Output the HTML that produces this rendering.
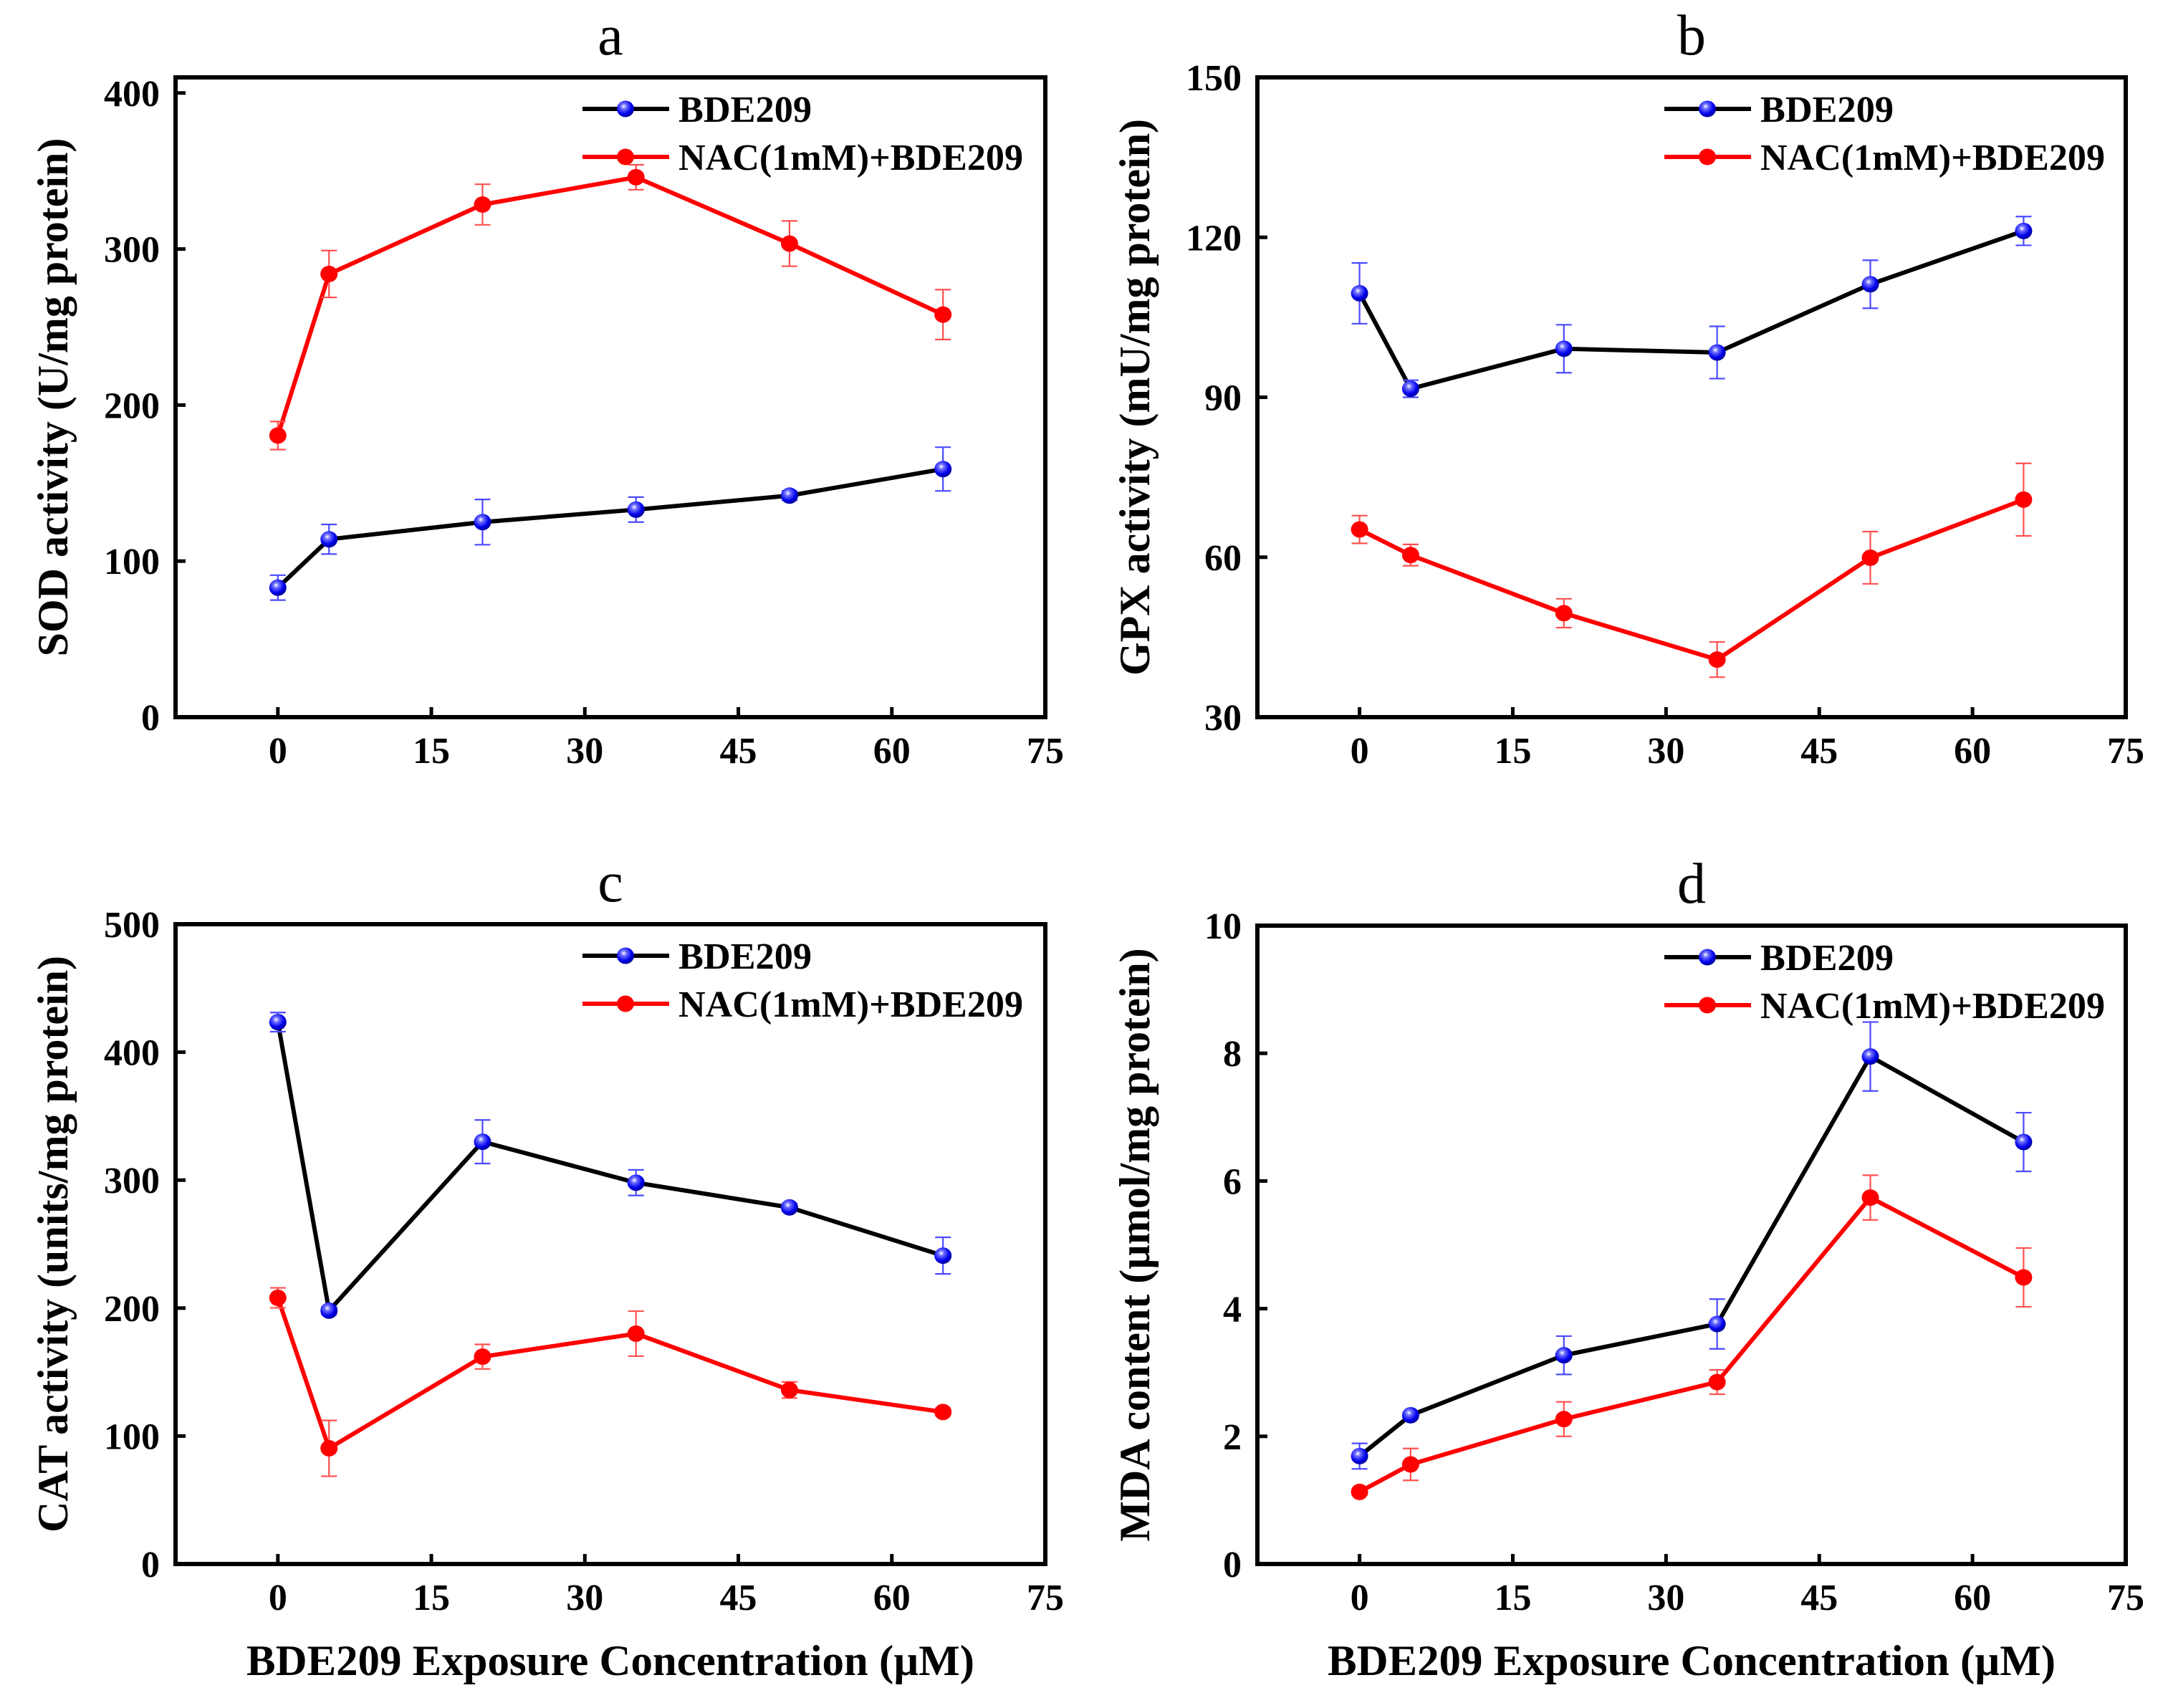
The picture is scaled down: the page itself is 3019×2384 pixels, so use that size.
<!DOCTYPE html>
<html><head><meta charset="utf-8"><style>
html,body{margin:0;padding:0;background:#fff;}
svg{display:block;}
text{font-family:"Liberation Serif","Times New Roman",serif;}
</style></head>
<body>
<svg id="fig" width="3019" height="2384" viewBox="0 0 3019 2384" xmlns="http://www.w3.org/2000/svg">
<defs>
<radialGradient id="blueBall" cx="0.4" cy="0.35" r="0.65">
<stop offset="0" stop-color="#ffffff"/><stop offset="0.25" stop-color="#6f6fff"/><stop offset="0.7" stop-color="#0000ee"/><stop offset="1" stop-color="#00009a"/>
</radialGradient>
</defs>
</svg>
<script>
const xCats = [0, 5, 20, 35, 50, 65];
const xTicks = [0, 15, 30, 45, 60, 75];
const panelLetters = ["a", "b", "c", "d"];
const yTitles = ["SOD activity (U/mg protein)", "GPX activity (mU/mg protein)", "CAT activity (units/mg protein)", "MDA content (\u00b5mol/mg protein)"];
const yTicksA = [0, 100, 200, 300, 400];
const yTicksB = [30, 60, 90, 120, 150];
const yTicksC = [0, 100, 200, 300, 400, 500];
const yTicksD = [0, 2, 4, 6, 8, 10];
const yMaxA = 410, yMinA = 0;
const yMaxB = 150, yMinB = 30;
const yMaxC = 500, yMinC = 0;
const yMaxD = 10, yMinD = 0;
const sodBDE = [83, 114, 125, 133, 142, 159];
const sodBDEErr = [8, 9.5, 14.5, 8, 3, 14];
const sodNAC = [180.5, 284, 328.5, 346, 303.5, 258];
const sodNACErr = [9, 15, 13, 8, 14.5, 16];
const gpxBDE = [109.5, 91.6, 99.1, 98.4, 111.2, 121.2];
const gpxBDEErr = [5.7, 1.6, 4.5, 4.9, 4.5, 2.7];
const gpxNAC = [65.2, 60.4, 49.5, 40.8, 59.9, 70.8];
const gpxNACErr = [2.6, 2.0, 2.7, 3.3, 4.9, 6.8];
const catBDE = [423.5, 198, 330, 298, 278.7, 241];
const catBDEErr = [7.5, 3, 17, 10, 3, 14.3];
const catNAC = [208, 90.4, 162, 180, 136, 118.8];
const catNACErr = [7.8, 21.8, 9.6, 17.6, 6.3, 3];
const mdaBDE = [1.69, 2.33, 3.27, 3.76, 7.95, 6.61];
const mdaBDEErr = [0.2, 0.05, 0.3, 0.39, 0.54, 0.46];
const mdaNAC = [1.13, 1.56, 2.27, 2.85, 5.74, 4.49];
const mdaNACErr = [0.05, 0.25, 0.27, 0.19, 0.35, 0.46];
const legendLabels = ["BDE209", "NAC(1mM)+BDE209"];

const NS = "http://www.w3.org/2000/svg";
const svg = document.getElementById("fig");
function mk(tag, attrs, parent) {
  const e = document.createElementNS(NS, tag);
  for (const k in attrs) e.setAttribute(k, attrs[k]);
  (parent || svg).appendChild(e);
  return e;
}
const panels = [
  {L:245, T:108, R:1459, B:1001, yt:yTicksA, ymin:yMinA, ymax:yMaxA, s1:sodBDE, e1:sodBDEErr, s2:sodNAC, e2:sodNACErr, xt:false},
  {L:1755, T:108, R:2967, B:1001, yt:yTicksB, ymin:yMinB, ymax:yMaxB, s1:gpxBDE, e1:gpxBDEErr, s2:gpxNAC, e2:gpxNACErr, xt:false},
  {L:245, T:1290, R:1459, B:2183, yt:yTicksC, ymin:yMinC, ymax:yMaxC, s1:catBDE, e1:catBDEErr, s2:catNAC, e2:catNACErr, xt:true},
  {L:1755, T:1292, R:2967, B:2183, yt:yTicksD, ymin:yMinD, ymax:yMaxD, s1:mdaBDE, e1:mdaBDEErr, s2:mdaNAC, e2:mdaNACErr, xt:true}
];
panels.forEach((p, i) => {
  const g = mk("g", {});
  
  
  const xS = v => p.L + (v + 10) / 85 * (p.R - p.L);
  const yS = v => p.B - (v - p.ymin) / (p.ymax - p.ymin) * (p.B - p.T);
  const cx = (p.L + p.R) / 2, cy = (p.T + p.B) / 2;
  const title = mk("text", {x:cx, y:p.T - 32, "text-anchor":"middle", "font-size":80}, g);
  title.textContent = panelLetters[i];
  
  
  // y ticks
  p.yt.forEach(v => {
    const y = yS(v);
    const t = mk("line", {x1:p.L, x2:p.L + 14, y1:y, y2:y, stroke:"#000", "stroke-width":5}, g);
    
    
    const lb = mk("text", {x:p.L - 22, y:y + 18, "text-anchor":"end", "font-size":52, "font-weight":"bold"}, g);
    lb.textContent = v;
    
    
  });
  xTicks.forEach(v => {
    const x = xS(v);
    if (v < 75) {
      const t = mk("line", {x1:x, x2:x, y1:p.B, y2:p.B - 14, stroke:"#000", "stroke-width":5}, g);
      
      
    }
    const lb = mk("text", {x:x, y:p.B + 64, "text-anchor":"middle", "font-size":52, "font-weight":"bold"}, g);
    lb.textContent = v;
    
    
  });
  const frame = mk("rect", {x:p.L, y:p.T, width:p.R - p.L, height:p.B - p.T, fill:"none", stroke:"#000", "stroke-width":6}, g);
  
  
  const yt = mk("text", {x:0, y:0, transform:"translate(" + (p.L - 151) + "," + cy + ") rotate(-90)", "text-anchor":"middle", "font-size":60, "font-weight":"bold"}, g);
  yt.textContent = yTitles[i];
  
  
  if (p.xt) {
    const xt = mk("text", {x:cx, y:p.B + 155, "text-anchor":"middle", "font-size":60, "font-weight":"bold", textLength:1016, lengthAdjust:"spacingAndGlyphs"}, g);
    xt.textContent = "BDE209 Exposure Concentration (\u00b5M)";
    
    
  }
  // series
  const series = [
    {vals:p.s2, errs:p.e2, line:"#ff0000", err:"#ff5050", fill:"#ff0000", name:"nac-bde209"},
    {vals:p.s1, errs:p.e1, line:"#000000", err:"#4a4aff", fill:"url(#blueBall)", name:"bde209"}
  ];
  series.forEach(s => {
    const sg = mk("g", {}, g);
    
    
    const pts = s.vals.map((v, k) => xS(xCats[k]) + "," + yS(v)).join(" ");
    const pl = mk("polyline", {points:pts, fill:"none", stroke:s.line, "stroke-width":6}, sg);
    
    
    s.vals.forEach((v, k) => {
      const x = xS(xCats[k]);
      const y1 = yS(v + s.errs[k]), y2 = yS(v - s.errs[k]);
      const eb = mk("path", {d:"M" + x + "," + y1 + "V" + y2 + "M" + (x - 11) + "," + y1 + "H" + (x + 11) + "M" + (x - 11) + "," + y2 + "H" + (x + 11), stroke:s.err, "stroke-width":2.2, fill:"none"}, sg);
      
      
    });
    s.vals.forEach((v, k) => {
      const c = mk("ellipse", {cx:xS(xCats[k]), cy:yS(v), rx:12, ry:11.5, fill:s.fill}, sg);
      
      
    });
  });
  // legend
  const lg = mk("g", {}, g);
  
  
  [["#000", "url(#blueBall)", 44], ["#ff0000", "#ff0000", 111]].forEach((d, k) => {
    const y = p.T + d[2];
    const ln = mk("line", {x1:p.L + 568, x2:p.L + 689, y1:y, y2:y, stroke:d[0], "stroke-width":6}, lg);
    
    
    const mkr = mk("ellipse", {cx:p.L + 628, cy:y, rx:12, ry:11.5, fill:d[1]}, lg);
    
    
    const tx = mk("text", {x:p.L + 702, y:y + 18, "font-size":52, "font-weight":"bold", textLength:(k === 0 ? 186 : 481), lengthAdjust:"spacingAndGlyphs"}, lg);
    tx.textContent = legendLabels[k];
    
    
  });
});
</script>
</body></html>
